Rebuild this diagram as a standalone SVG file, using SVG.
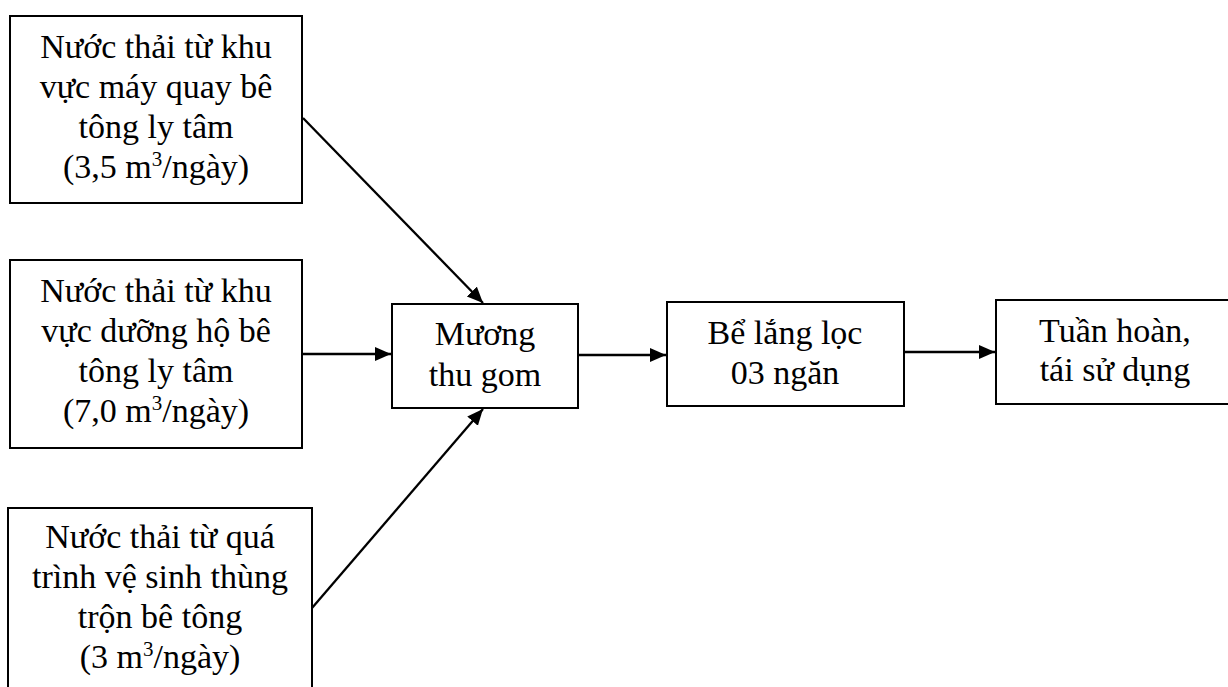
<svg xmlns="http://www.w3.org/2000/svg" width="1228" height="687" viewBox="0 0 1228 687">
<style>
.box{fill:#fff;stroke:#000;stroke-width:2}
.t{font-size:34px;fill:#000;text-anchor:middle}
.c{stroke:#000;stroke-width:2.3;fill:none;marker-end:url(#ah)}
</style>
<defs>
<marker id="ah" markerUnits="userSpaceOnUse" markerWidth="17" markerHeight="15" refX="16" refY="7" orient="auto">
<path d="M0,0 L16,7 L0,14 Z" fill="#000"/>
</marker>
</defs>
<rect width="1228" height="687" fill="#fff"/>
<g id="connectors">
<line class="c" x1="303" y1="118" x2="483" y2="303"/>
<line class="c" x1="302" y1="354" x2="391" y2="354"/>
<line class="c" x1="312" y1="608" x2="483" y2="409"/>
<line class="c" x1="578" y1="355" x2="666" y2="355"/>
<line class="c" x1="904" y1="352" x2="995" y2="352"/>
</g>
<g id="src1" font-family="Liberation Serif, Tinos, Times New Roman, serif">
<rect class="box" x="10" y="16" width="292" height="187"/>
<text class="t"><tspan x="156" y="58">Nước thải từ khu</tspan><tspan x="156" y="98">vực máy quay bê</tspan><tspan x="156" y="138">tông ly tâm</tspan><tspan x="156" y="178">(3,5 m<tspan dy="-12" font-size="21">3</tspan><tspan dy="12">/ngày)</tspan></tspan></text>
</g>
<g id="src2" font-family="Liberation Serif, Tinos, Times New Roman, serif">
<rect class="box" x="10" y="260" width="292" height="188"/>
<text class="t"><tspan x="156" y="302">Nước thải từ khu</tspan><tspan x="156" y="342">vực dưỡng hộ bê</tspan><tspan x="156" y="382">tông ly tâm</tspan><tspan x="156" y="422">(7,0 m<tspan dy="-12" font-size="21">3</tspan><tspan dy="12">/ngày)</tspan></tspan></text>
</g>
<g id="src3" font-family="Liberation Serif, Tinos, Times New Roman, serif">
<rect class="box" x="8" y="508" width="304" height="200"/>
<text class="t"><tspan x="160" y="548">Nước thải từ quá</tspan><tspan x="160" y="588">trình vệ sinh thùng</tspan><tspan x="160" y="628">trộn bê tông</tspan><tspan x="160" y="668">(3 m<tspan dy="-12" font-size="21">3</tspan><tspan dy="12">/ngày)</tspan></tspan></text>
</g>
<g id="muong" font-family="Liberation Serif, Tinos, Times New Roman, serif">
<rect class="box" x="392" y="304" width="186" height="104"/>
<text class="t"><tspan x="485" y="345">Mương</tspan><tspan x="485" y="386">thu gom</tspan></text>
</g>
<g id="be" font-family="Liberation Serif, Tinos, Times New Roman, serif">
<rect class="box" x="667" y="302" width="237" height="104"/>
<text class="t"><tspan x="785" y="344">Bể lắng lọc</tspan><tspan x="785" y="384">03 ngăn</tspan></text>
</g>
<g id="tuan" font-family="Liberation Serif, Tinos, Times New Roman, serif">
<rect class="box" x="996" y="300" width="240" height="104"/>
<text class="t"><tspan x="1115" y="342">Tuần hoàn,</tspan><tspan x="1115" y="381">tái sử dụng</tspan></text>
</g>
</svg>
